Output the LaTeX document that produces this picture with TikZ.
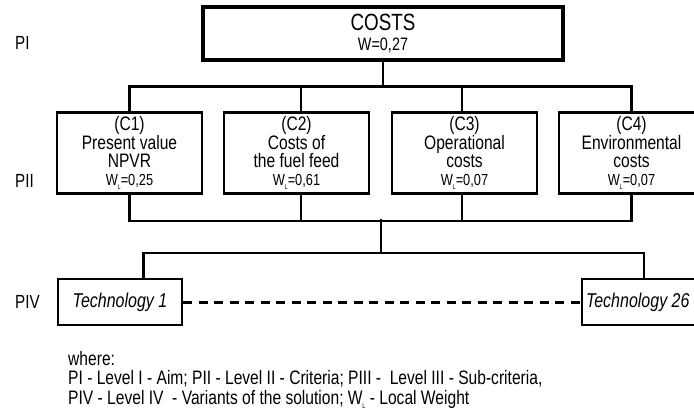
\documentclass[tikz,border=0pt]{standalone}
\usepackage{fontspec}
\setmainfont{Liberation Sans}[FakeStretch=0.8]
\usetikzlibrary{calc}
\newcommand{\WL}{W\kern-0.3pt\raisebox{-0.4ex}{\fontsize{7}{7}\selectfont L}}
\begin{document}
\begin{tikzpicture}[x=1pt,y=-1pt,
  goalbox/.style={draw, line width=3.4pt, minimum width=360pt, minimum height=53pt, inner sep=0pt, align=center},
  critbox/.style={draw, line width=2.6pt, minimum width=145pt, minimum height=81pt, inner sep=0pt, align=center,
    font=\fontsize{19.5}{18}\selectfont},
  techbox/.style={draw, line width=2.6pt, minimum width=124pt, minimum height=46pt, inner sep=0pt,
    font=\fontsize{20}{22}\selectfont\itshape},
  link/.style={line width=2.6pt},
  levellabel/.style={anchor=west, inner sep=0pt, font=\fontsize{19}{20}\selectfont},
  legend/.style={anchor=west, inner sep=0pt, font=\fontsize{19.5}{20}\selectfont}]
\useasboundingbox (0,0) rectangle (694,418);

% level labels
\node[levellabel] (lvl1) at (15,43) {PI};
\node[levellabel] (lvl2) at (15,181) {PII};
\node[levellabel] (lvl4) at (15,302) {PIV};

% aim
\node[goalbox] (goal) at (383,33.5) {{\fontsize{23.5}{20}\selectfont COSTS}\\[7pt]{\fontsize{18}{16}\selectfont W=0,27}};

% criteria
\node[critbox] (c1) at (129.5,153) {(C1)\\Present value\\NPVR\\{\fontsize{16}{14}\selectfont\WL=0,25}};
\node[critbox] (c2) at (296.5,153) {(C2)\\Costs of\\the fuel feed\\{\fontsize{16}{14}\selectfont\WL=0,61}};
\node[critbox] (c3) at (464.5,153) {(C3)\\Operational\\costs\\{\fontsize{16}{14}\selectfont\WL=0,07}};
\node[critbox] (c4) at (631.5,153) {(C4)\\Environmental\\costs\\{\fontsize{16}{14}\selectfont\WL=0,07}};

% variants
\node[techbox] (t1) at (120,302) {Technology 1};
\node[techbox, text width=116pt, inner xsep=4pt, align=flush left] (t26) at (644,302) {Technology 26};

% aim to criteria
\draw[link] (goal.south) -- ++(0,25) coordinate (hubtop);
\draw[link] (c1.north) |- (hubtop) -| (c4.north);
\draw[link] ($(c2.north)+(4.5,0)$) -- ($(c2.north |- hubtop)+(4.5,0)$);
\draw[link] ($(c3.north)+(-2.5,0)$) -- ($(c3.north |- hubtop)+(-2.5,0)$);

% criteria to variants
\draw[link] (c1.south) -- ++(0,26) coordinate (hubmid) -| (c4.south);
\draw[link] ($(c2.south)+(4.5,0)$) -- ($(c2.south |- hubmid)+(4.5,0)$);
\draw[link] ($(c3.south)+(-2.5,0)$) -- ($(c3.south |- hubmid)+(-2.5,0)$);
\coordinate (split) at (381,219);
\draw[link] (split) -- ++(0,34) coordinate (hubbot);
\draw[link] ($(t1.north)+(23.5,0)$) |- (hubbot) -| (t26.north);

% remaining variants
\draw[line width=3pt, dash pattern=on 9pt off 6.5pt] (t1.east) -- (t26.west);

% legend
\node[legend] (where) at (68,359) {where:};
\node[legend] (leg1) at (68,379) {PI - Level I - Aim; PII - Level II - Criteria; PIII -\ \ Level III - Sub-criteria,};
\node[legend] (leg2) at (68,399) {PIV - Level IV\ \ - Variants of the solution; \WL\ - Local Weight};
\end{tikzpicture}
\end{document}
